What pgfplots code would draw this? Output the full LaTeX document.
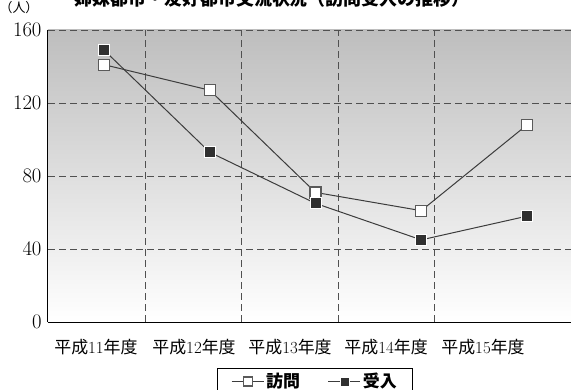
\documentclass[border=0pt]{standalone}
\usepackage{pgfplots}
\pgfplotsset{compat=1.18}
\usepackage{fontspec}
\newfontfamily\cjk{Noto Sans CJK JP}
\definecolor{bgTop}{RGB}{190,190,190}
\definecolor{gridc}{RGB}{80,80,80}
\definecolor{linec}{RGB}{60,60,60}
\definecolor{markd}{RGB}{48,48,48}
\definecolor{markb}{RGB}{90,90,90}
\begin{document}
\begin{tikzpicture}[x=1bp,y=1bp]
\begin{axis}[
  at={(48bp,68bp)}, anchor=south west,
  scale only axis, width=523bp, height=292bp,
  xmin=-0.5296, xmax=4.416, ymin=0, ymax=160,
  axis x line*=bottom, axis y line*=left,
  axis line style={-, black, line width=1bp},
  axis background/.style={top color=bgTop, bottom color=white},
  ytick={0,40,80,120,160},
  xtick={-0.076,0.851,1.759,2.667,3.584},
  xticklabels={{\cjk 平成}11{\cjk 年度},{\cjk 平成}12{\cjk 年度},{\cjk 平成}13{\cjk 年度},{\cjk 平成}14{\cjk 年度},{\cjk 平成}15{\cjk 年度}},
  major tick length=0pt,
  ymajorgrids=true, xmajorgrids=false,
  extra x ticks={0.388,1.296,2.213,3.121},
  extra x tick labels={},
  extra x tick style={xmajorgrids=true},
  grid style={gridc, line width=0.8bp, dash pattern=on 7bp off 4bp},
  yticklabel style={font=\fontsize{20}{20}\selectfont, xshift=-3bp},
  xticklabel style={font=\fontsize{17}{17}\selectfont, yshift=-14bp},
  legend style={at={(0.5105,-0.1575)}, anchor=north,
    legend columns=2, draw=black, line width=0.8bp,
    font=\fontsize{17}{17}\selectfont\cjk\bfseries,
    /tikz/every even column/.append style={column sep=26bp},
    inner xsep=14bp, inner ysep=3bp},
  legend image code/.code={\draw[mark repeat=2,mark phase=2,#1,mark size=4.5bp] plot coordinates {(0bp,0bp) (16bp,0bp) (32bp,0bp)};},
]
\addplot[linec, line width=1bp, mark=square*, mark size=5.5bp,
  mark options={fill=white, draw=markb, line width=1.2bp, solid}]
  coordinates {(0,141) (1,127) (2,71) (3,61) (4,108)};
\addlegendentry{訪問}
\addplot[linec, line width=1bp, mark=square*, mark size=5.5bp,
  mark options={fill=markd, draw=white, line width=0.8bp, solid}]
  coordinates {(0,149) (1,93) (2,65) (3,45) (4,58)};
\addlegendentry{受入}
\end{axis}
\node[font=\fontsize{18}{18}\selectfont\cjk\bfseries] at (272bp,391bp) {姉妹都市・友好都市交流状況（訪問受入の推移）};
\node[font=\fontsize{13}{13}\selectfont\cjk] at (19bp,382bp) {（人）};
\pgfresetboundingbox
\useasboundingbox (0,0) rectangle (571bp,390bp);
\end{tikzpicture}
\end{document}
